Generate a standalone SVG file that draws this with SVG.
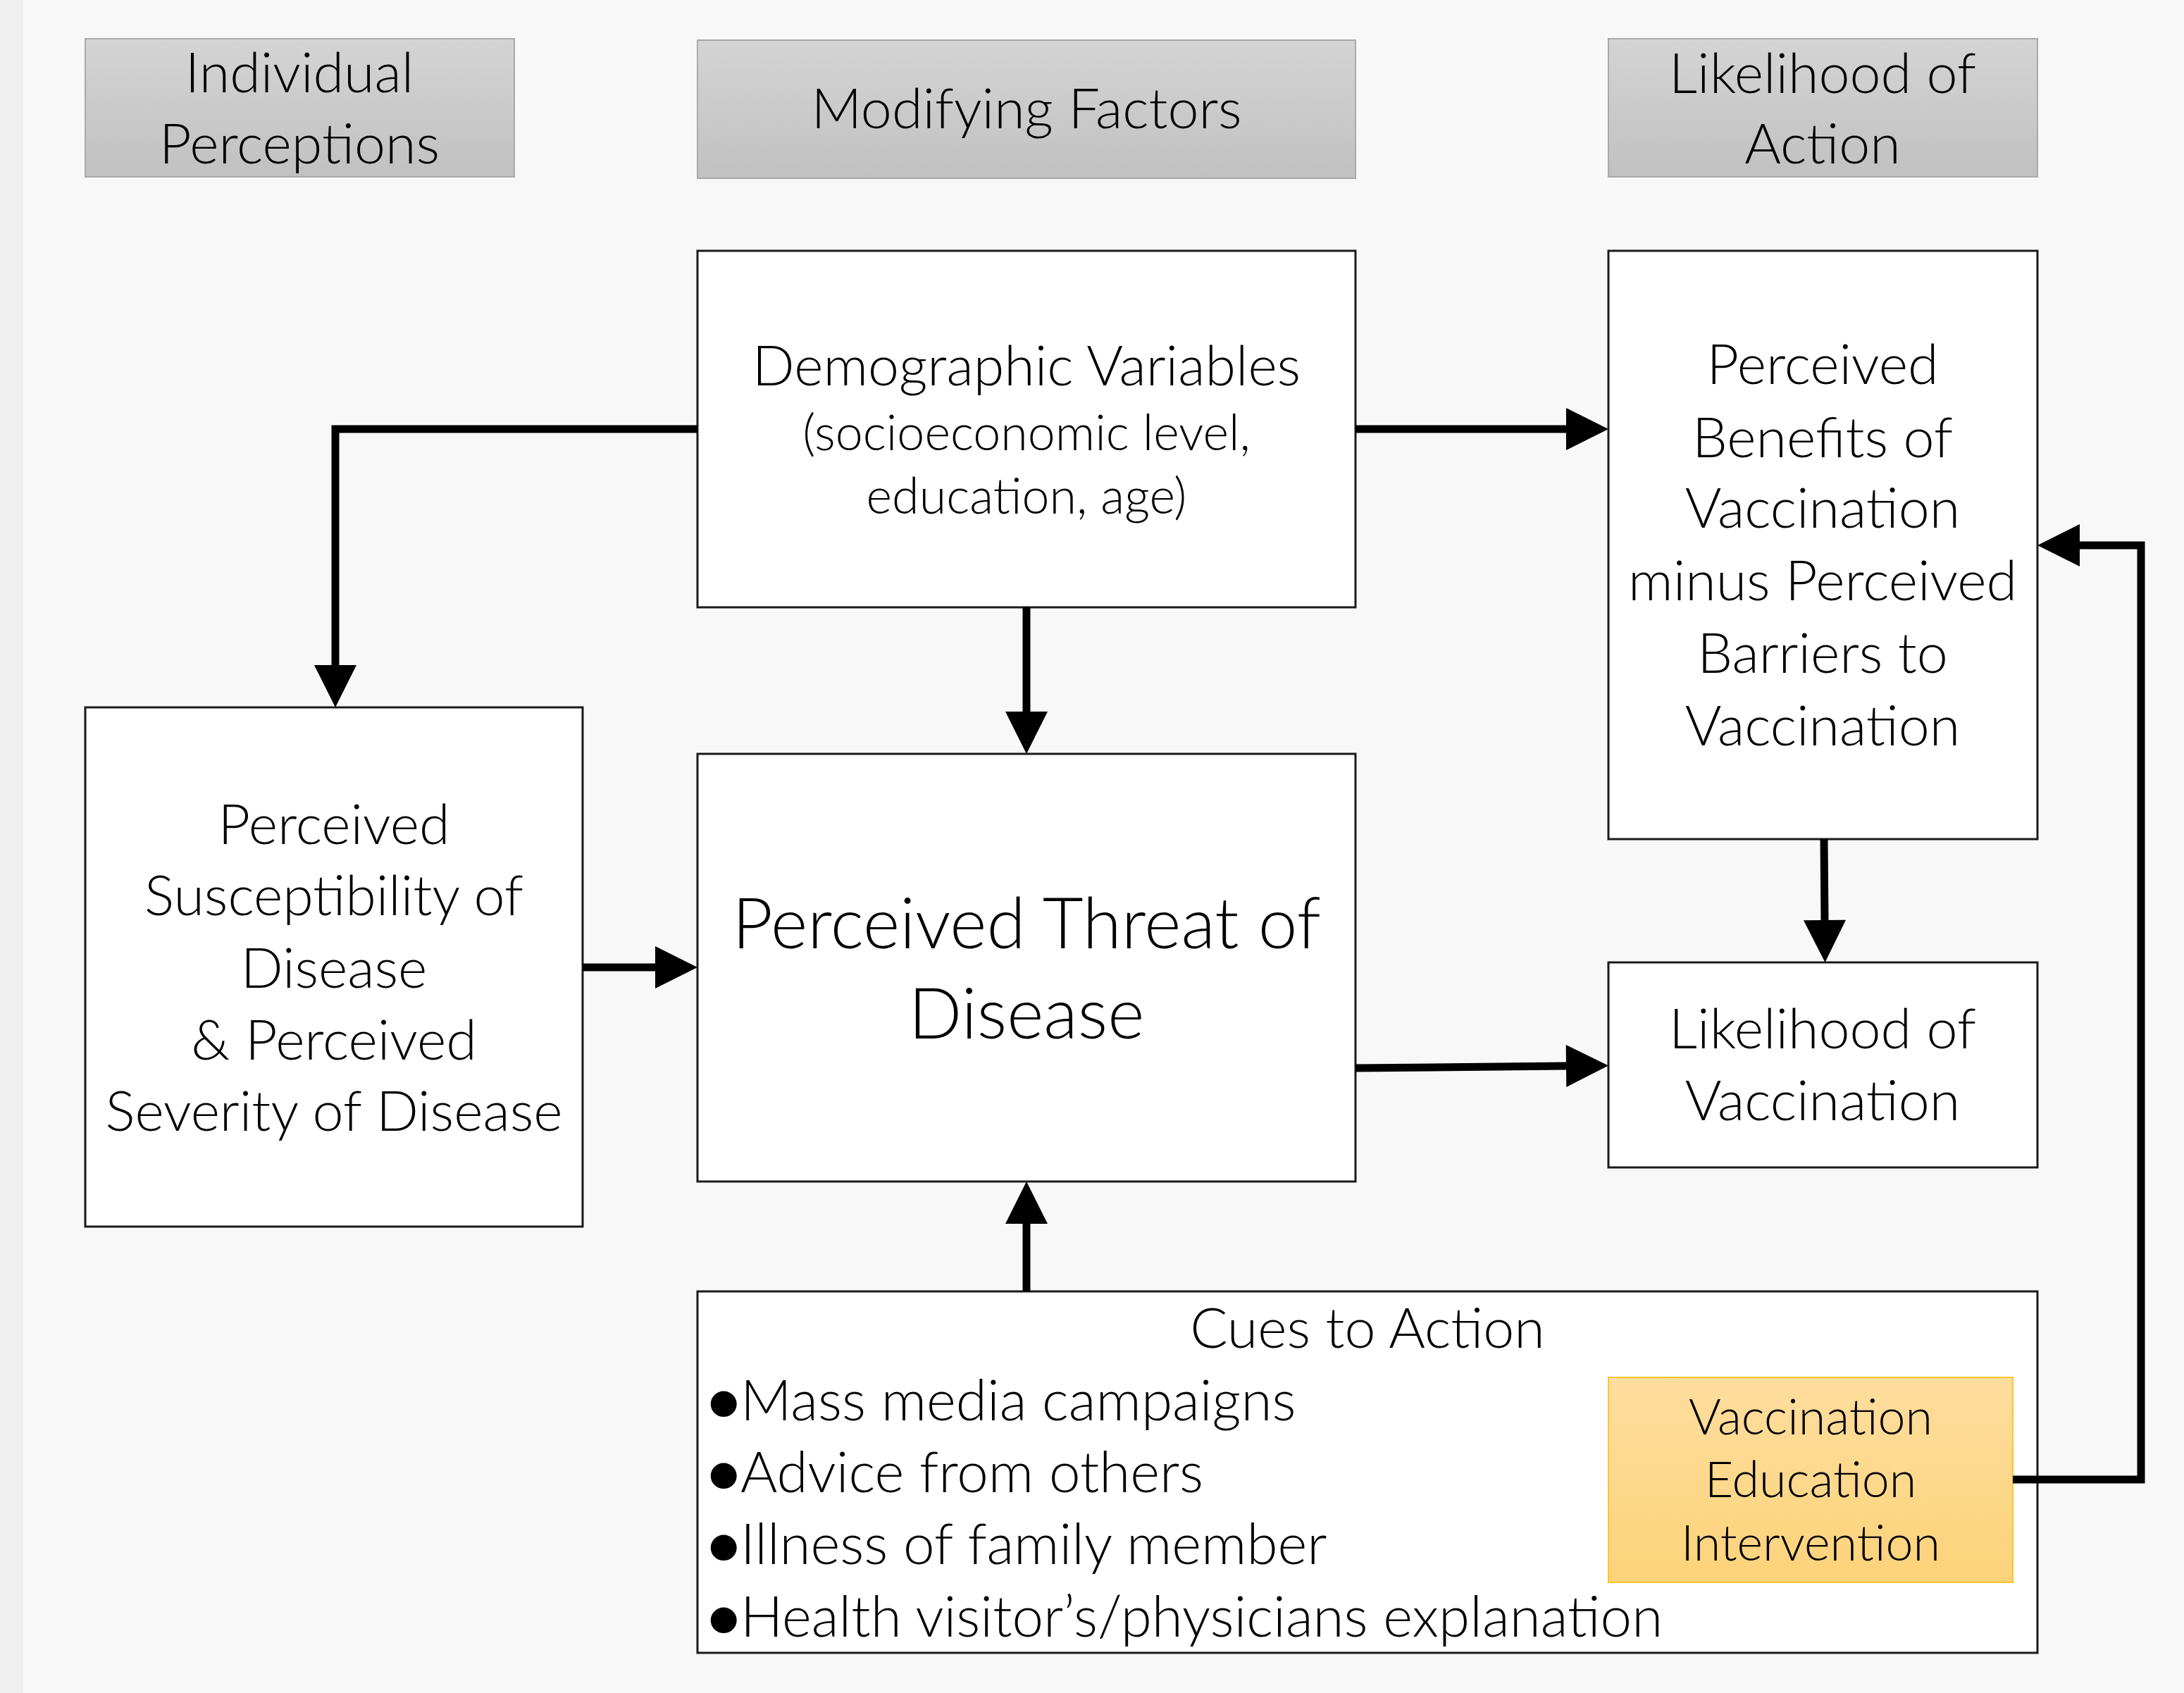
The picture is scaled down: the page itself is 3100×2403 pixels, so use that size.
<svg xmlns="http://www.w3.org/2000/svg" width="3100" height="2403" viewBox="0 0 3100 2403">
<style>
text{font-family:Lato,"Open Sans","Liberation Sans",sans-serif;font-weight:300;fill:#000;text-anchor:middle}
.b{font-size:79px}
.s{font-size:70px}
.big{font-size:100px}
.l{text-anchor:start;font-size:80px}
.dot{font-weight:900}
.box{fill:#fff;stroke:#1a1a1a;stroke-width:3}
.hdr{fill:url(#gh);stroke:#a9a9a9;stroke-width:2}
.org{fill:url(#go);stroke:#fcc434;stroke-width:2}
.c{fill:none;stroke:#000;stroke-width:11;stroke-linejoin:miter;marker-end:url(#ah)}
</style>
<defs>
<linearGradient id="gh" x1="0" y1="0" x2="0" y2="1"><stop offset="0" stop-color="#d4d4d4"/><stop offset="1" stop-color="#c1c1c1"/></linearGradient>
<linearGradient id="go" x1="0" y1="0" x2="0" y2="1"><stop offset="0" stop-color="#fedd9d"/><stop offset="1" stop-color="#fdd37a"/></linearGradient>
<marker id="ah" markerUnits="userSpaceOnUse" markerWidth="62" markerHeight="62" refX="0" refY="30" orient="auto" overflow="visible"><path d="M0,0 L60,30 L0,60 Z" fill="#000"/></marker>
</defs>
<rect width="3100" height="2403" fill="#f8f8f8"/>
<rect width="33" height="2403" fill="#efefef"/>
<g id="hdr-individual"><rect class="hdr" x="121" y="55" width="609" height="196"/><text class="b" x="425" y="131">Individual</text><text class="b" x="425" y="232">Perceptions</text></g>
<g id="hdr-modifying"><rect class="hdr" x="990" y="57" width="934" height="196"/><text class="b" x="1457" y="182">Modifying Factors</text></g>
<g id="hdr-likelihood"><rect class="hdr" x="2283" y="55" width="609" height="196"/><text class="b" x="2587" y="132">Likelihood of</text><text class="b" x="2587" y="232">Action</text></g>
<g id="demographic"><rect class="box" x="990" y="356" width="934" height="506"/><text class="b" x="1457" y="547">Demographic Variables</text><text class="s" x="1457" y="639">(socioeconomic level,</text><text class="s" x="1457" y="729">education, age)</text></g>
<g id="benefits"><rect class="box" x="2283" y="356" width="609" height="835"/><text class="b" x="2587" y="545">Perceived</text><text class="b" x="2587" y="649">Benefits of</text><text class="b" x="2587" y="749">Vaccination</text><text class="b" x="2587" y="852">minus Perceived</text><text class="b" x="2587" y="955">Barriers to</text><text class="b" x="2587" y="1058">Vaccination</text></g>
<g id="susceptibility"><rect class="box" x="121" y="1004" width="706" height="737"/><text class="b" x="474" y="1198">Perceived</text><text class="b" x="474" y="1299">Susceptibility of</text><text class="b" x="474" y="1402">Disease</text><text class="b" x="474" y="1504">&amp; Perceived</text><text class="b" x="474" y="1605">Severity of Disease</text></g>
<g id="threat"><rect class="box" x="990" y="1070" width="934" height="607"/><text class="big" x="1457" y="1346">Perceived Threat of</text><text class="big" x="1457" y="1474">Disease</text></g>
<g id="likelihood"><rect class="box" x="2283" y="1366" width="609" height="291"/><text class="b" x="2587" y="1488">Likelihood of</text><text class="b" x="2587" y="1590">Vaccination</text></g>
<g id="cues"><rect class="box" x="990" y="1833" width="1902" height="513"/><text class="b" x="1941" y="1913">Cues to Action</text>
<text class="l" x="1004" y="2016"><tspan class="dot">•</tspan><tspan x="1051">Mass media campaigns</tspan></text>
<text class="l" x="1004" y="2118"><tspan class="dot">•</tspan><tspan x="1051">Advice from others</tspan></text>
<text class="l" x="1004" y="2220"><tspan class="dot">•</tspan><tspan x="1051">Illness of family member</tspan></text>
<text class="l" x="1004" y="2323"><tspan class="dot">•</tspan><tspan x="1051">Health visitor’s/physicians explanation</tspan></text></g>
<g id="intervention"><rect class="org" x="2283" y="1955" width="574" height="291"/><text class="s" x="2570" y="2036">Vaccination</text><text class="s" x="2570" y="2125">Education</text><text class="s" x="2570" y="2215">Intervention</text></g>
<g id="connectors">
<path class="c" d="M990,609 H476 V944"/>
<path class="c" d="M1924,609 H2223"/>
<path class="c" d="M1457,862 V1010"/>
<path class="c" d="M827,1373 H930"/>
<path class="c" d="M2589,1191 L2590,1306"/>
<path class="c" d="M1924,1516 L2223,1513"/>
<path class="c" d="M1457,1833 V1737"/>
<path class="c" d="M2857,2100 H3039 V774 H2952"/>
</g>
</svg>
